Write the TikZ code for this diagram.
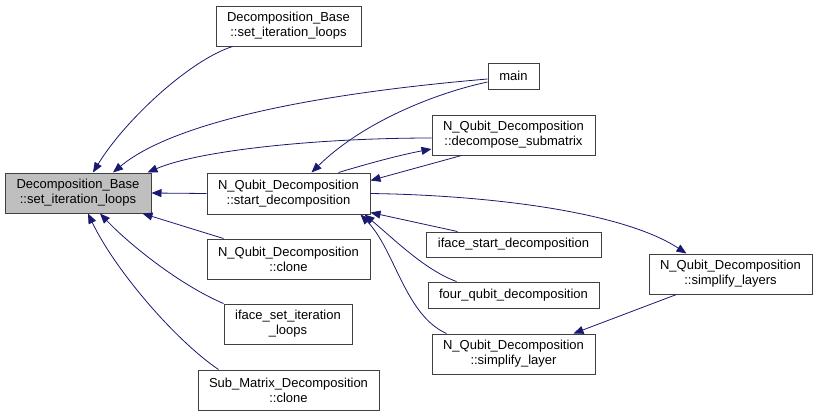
\documentclass[tikz,border=0pt]{standalone}
\usepackage{fontspec}
\setsansfont{Liberation Sans}
\usetikzlibrary{arrows.meta}
\definecolor{edgeblue}{HTML}{191970}
\definecolor{rootgray}{HTML}{BFBFBF}
\definecolor{boxline}{HTML}{404040}

\begin{document}
\begin{tikzpicture}[
    x=1pt, y=-1pt,
    font=\sffamily\fontsize{13}{15}\selectfont,
    fnbox/.style={
        draw=boxline, fill=white, line width=1pt,
        inner sep=0pt, align=center,
        minimum width=163pt, minimum height=40pt,
    },
    rootbox/.style={fnbox, fill=rootgray, minimum width=146pt},
    callarr/.style={-{Triangle[length=10pt,width=8pt]}, line width=0.8pt, color=edgeblue},
]
\useasboundingbox (0,0) rectangle (817,416);

% Root of the caller graph
\node[rootbox] (root) at (78,193) {Decomposition\_Base\\::set\_iteration\_loops};

% Direct callers, middle column
\node[fnbox, minimum width=145pt] (dbtop) at (288.5,26) {Decomposition\_Base\\::set\_iteration\_loops};
\node[fnbox, minimum height=41pt] (start) at (288.5,193.5) {N\_Qubit\_Decomposition\\::start\_decomposition};
\node[fnbox] (clone) at (288.5,259) {N\_Qubit\_Decomposition\\::clone};
\node[fnbox, minimum width=128pt] (ifaceset) at (288,324) {iface\_set\_iteration\\\_loops};
\node[fnbox, minimum width=181pt] (subclone) at (288.5,390) {Sub\_Matrix\_Decomposition\\::clone};

% Callers of start_decomposition
\node[fnbox, minimum width=51pt, minimum height=26pt] (main) at (513.5,76) {main};
\node[fnbox] (decsub) at (513.5,135) {N\_Qubit\_Decomposition\\::decompose\_submatrix};
\node[fnbox, minimum width=175pt, minimum height=25pt] (ifacestart) at (513.5,244.5) {iface\_start\_decomposition};
\node[fnbox, minimum width=171pt, minimum height=26pt] (fourq) at (513.5,295) {four\_qubit\_decomposition};
\node[fnbox] (simplayer) at (513.5,354) {N\_Qubit\_Decomposition\\::simplify\_layer};
\node[fnbox] (simplayers) at (730.5,274) {N\_Qubit\_Decomposition\\::simplify\_layers};

% Edges into the root
\draw[callarr] ([xshift=17]dbtop.south west) .. controls (190,60) and (125,120) .. ([xshift=15]root.north);
\draw[callarr] ([yshift=-3]main.west) .. controls (300,95) and (170,125) .. ([xshift=35]root.north);
\draw[callarr] ([yshift=-3]decsub.west) .. controls (320,138) and (200,150) .. ([xshift=-4]root.north east);
\draw[callarr] (start.west) -- (root.east);
\draw[callarr] ([xshift=17]clone.north west) -- ([xshift=-9]root.south east);
\draw[callarr] (ifaceset.north west) .. controls (180,285) and (130,245) .. ([xshift=22]root.south);
\draw[callarr] ([xshift=21]subclone.north west) .. controls (175,340) and (115,270) .. ([xshift=10]root.south);

% Edges around start_decomposition
\draw[callarr] ([yshift=-6]main.west) .. controls (440,92) and (365,120) .. ([xshift=23]start.north);
\draw[callarr] ([xshift=50]start.north) .. controls (370,163) and (400,155) .. ([yshift=-14]decsub.west);
\draw[callarr] ([xshift=30]decsub.south west) -- ([yshift=13]start.east);
\draw[callarr] (start.east) .. controls (480,195) and (620,210) .. ([xshift=38]simplayers.north west);
\draw[callarr] ([xshift=32]ifacestart.north west) -- ([yshift=2]start.south east);
\draw[callarr] ([xshift=29]fourq.north west) .. controls (425,270) and (395,240) .. ([xshift=-6]start.south east);
\draw[callarr] ([xshift=15]simplayer.north west) .. controls (405,315) and (395,250) .. ([xshift=-10]start.south east);
\draw[callarr] ([xshift=28]simplayers.south west) -- ([xshift=-22]simplayer.north east);

\end{tikzpicture}
\end{document}
